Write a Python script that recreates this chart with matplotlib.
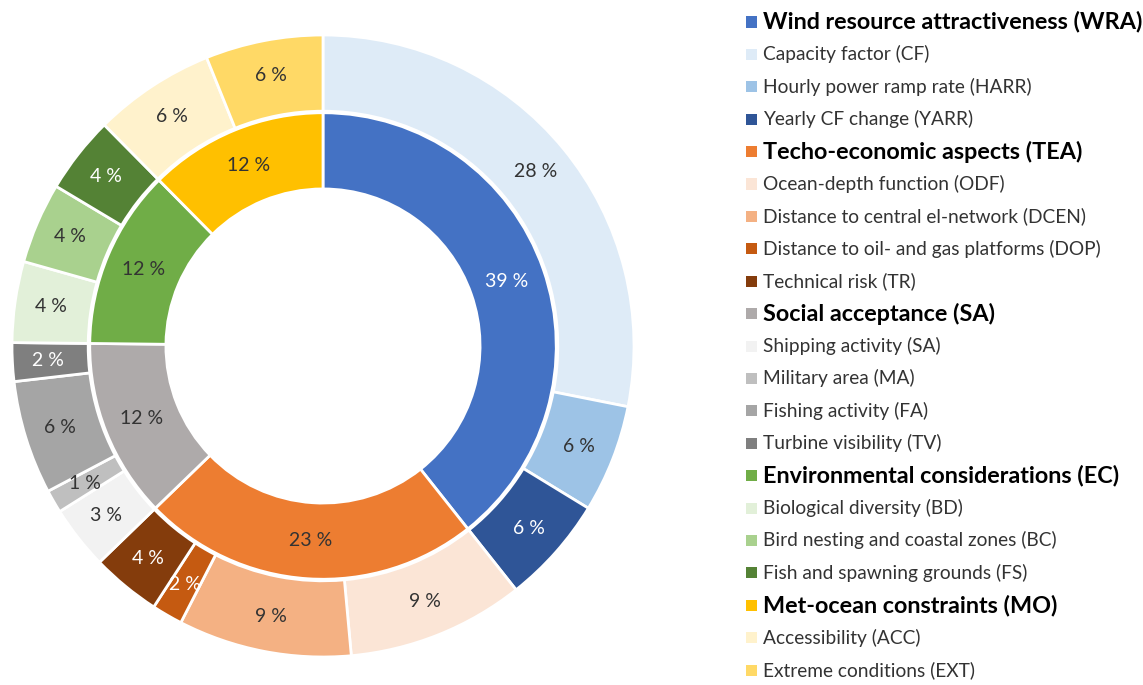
import matplotlib
matplotlib.use("Agg")
import matplotlib.pyplot as plt
from matplotlib.patches import Rectangle

plt.rcParams['font.family'] = ['Lato', 'DejaVu Sans']

# main criteria (inner ring), % weight
groups = ['Wind resource attractiveness (WRA)', 'Techo-economic aspects (TEA)',
          'Social acceptance (SA)', 'Environmental considerations (EC)',
          'Met-ocean constraints (MO)']
group_vals = [39.3, 23.4, 12.4, 12.4, 12.4]
group_colors = ['#4472C4', '#ED7D31', '#AEAAAA', '#70AD47', '#FFC000']
group_txt = ['white', '#333333', '#333333', '#333333', '#333333']

# sub criteria (outer ring), % weight
subs = [['Capacity factor (CF)', 'Hourly power ramp rate (HARR)', 'Yearly CF change (YARR)'],
        ['Ocean-depth function (ODF)', 'Distance to central el-network (DCEN)',
         'Distance to oil- and gas platforms (DOP)', 'Technical risk (TR)'],
        ['Shipping activity (SA)', 'Military area (MA)', 'Fishing activity (FA)',
         'Turbine visibility (TV)'],
        ['Biological diversity (BD)', 'Bird nesting and coastal zones (BC)',
         'Fish and spawning grounds (FS)'],
        ['Accessibility (ACC)', 'Extreme conditions (EXT)']]
sub_vals = [[28.1, 5.6, 5.6],
            [9.2, 9.0, 1.6, 3.6],
            [3.3, 1.2, 5.9, 2.0],
            [4.2, 4.2, 4.0],
            [6.3, 6.1]]
sub_colors = [['#DEEBF7', '#9DC3E6', '#2F5597'],
              ['#FBE5D6', '#F4B183', '#C55A11', '#843C0C'],
              ['#F2F2F2', '#BFBFBF', '#A5A5A5', '#7F7F7F'],
              ['#E2F0D9', '#A9D18E', '#548235'],
              ['#FFF2CC', '#FFD966']]
sub_txt = [['#333333', '#333333', 'white'],
           ['#333333', '#333333', 'white', 'white'],
           ['#333333', '#333333', '#333333', 'white'],
           ['#333333', '#333333', 'white'],
           ['#333333', '#333333']]

W, H = 1143, 685
fig = plt.figure(figsize=(W / 100, H / 100), dpi=100)
ax = fig.add_axes([12 / W, 28 / H, 622 / W, 622 / H])

outer_vals = [v for g in sub_vals for v in g]
outer_cols = [c for g in sub_colors for c in g]
outer_tc = [c for g in sub_txt for c in g]

wp = dict(width=0.245, edgecolor='white', linewidth=2)
w_out, _, t_out = ax.pie(outer_vals, radius=1.0, colors=outer_cols, startangle=90,
                         counterclock=False, wedgeprops=wp,
                         autopct=lambda p: '%d %%' % round(p), pctdistance=0.885,
                         textprops=dict(fontsize=14))
for t, c in zip(t_out, outer_tc):
    t.set_color(c)

w_in, _, t_in = ax.pie(group_vals, radius=0.75, colors=group_colors, startangle=90,
                       counterclock=False, wedgeprops=wp,
                       autopct=lambda p: '%d %%' % round(p), pctdistance=0.835,
                       textprops=dict(fontsize=14))
for t, c in zip(t_in, group_txt):
    t.set_color(c)
ax.set_xlim(-1, 1)
ax.set_ylim(-1, 1)
ax.set_aspect('equal')

# legend drawn by hand
x0, y0, dy = 746, 22, 32.4
row = 0
for g, gc, sl, sc in zip(groups, group_colors, subs, sub_colors):
    entries = [(g, gc, True)] + [(s, c, False) for s, c in zip(sl, sc)]
    for name, col, bold in entries:
        y = y0 + row * dy
        fig.add_artist(Rectangle((x0 / W, 1 - (y + 5.5) / H), 11 / W, 11 / H,
                                 transform=fig.transFigure, color=col, lw=0))
        fig.text((x0 + 17) / W, 1 - y / H, name, va='center', ha='left',
                 fontsize=16.8 if bold else 13.8,
                 fontweight='bold' if bold else 'normal',
                 color='black' if bold else '#333333')
        row += 1

fig.savefig('out.png', dpi=100)
